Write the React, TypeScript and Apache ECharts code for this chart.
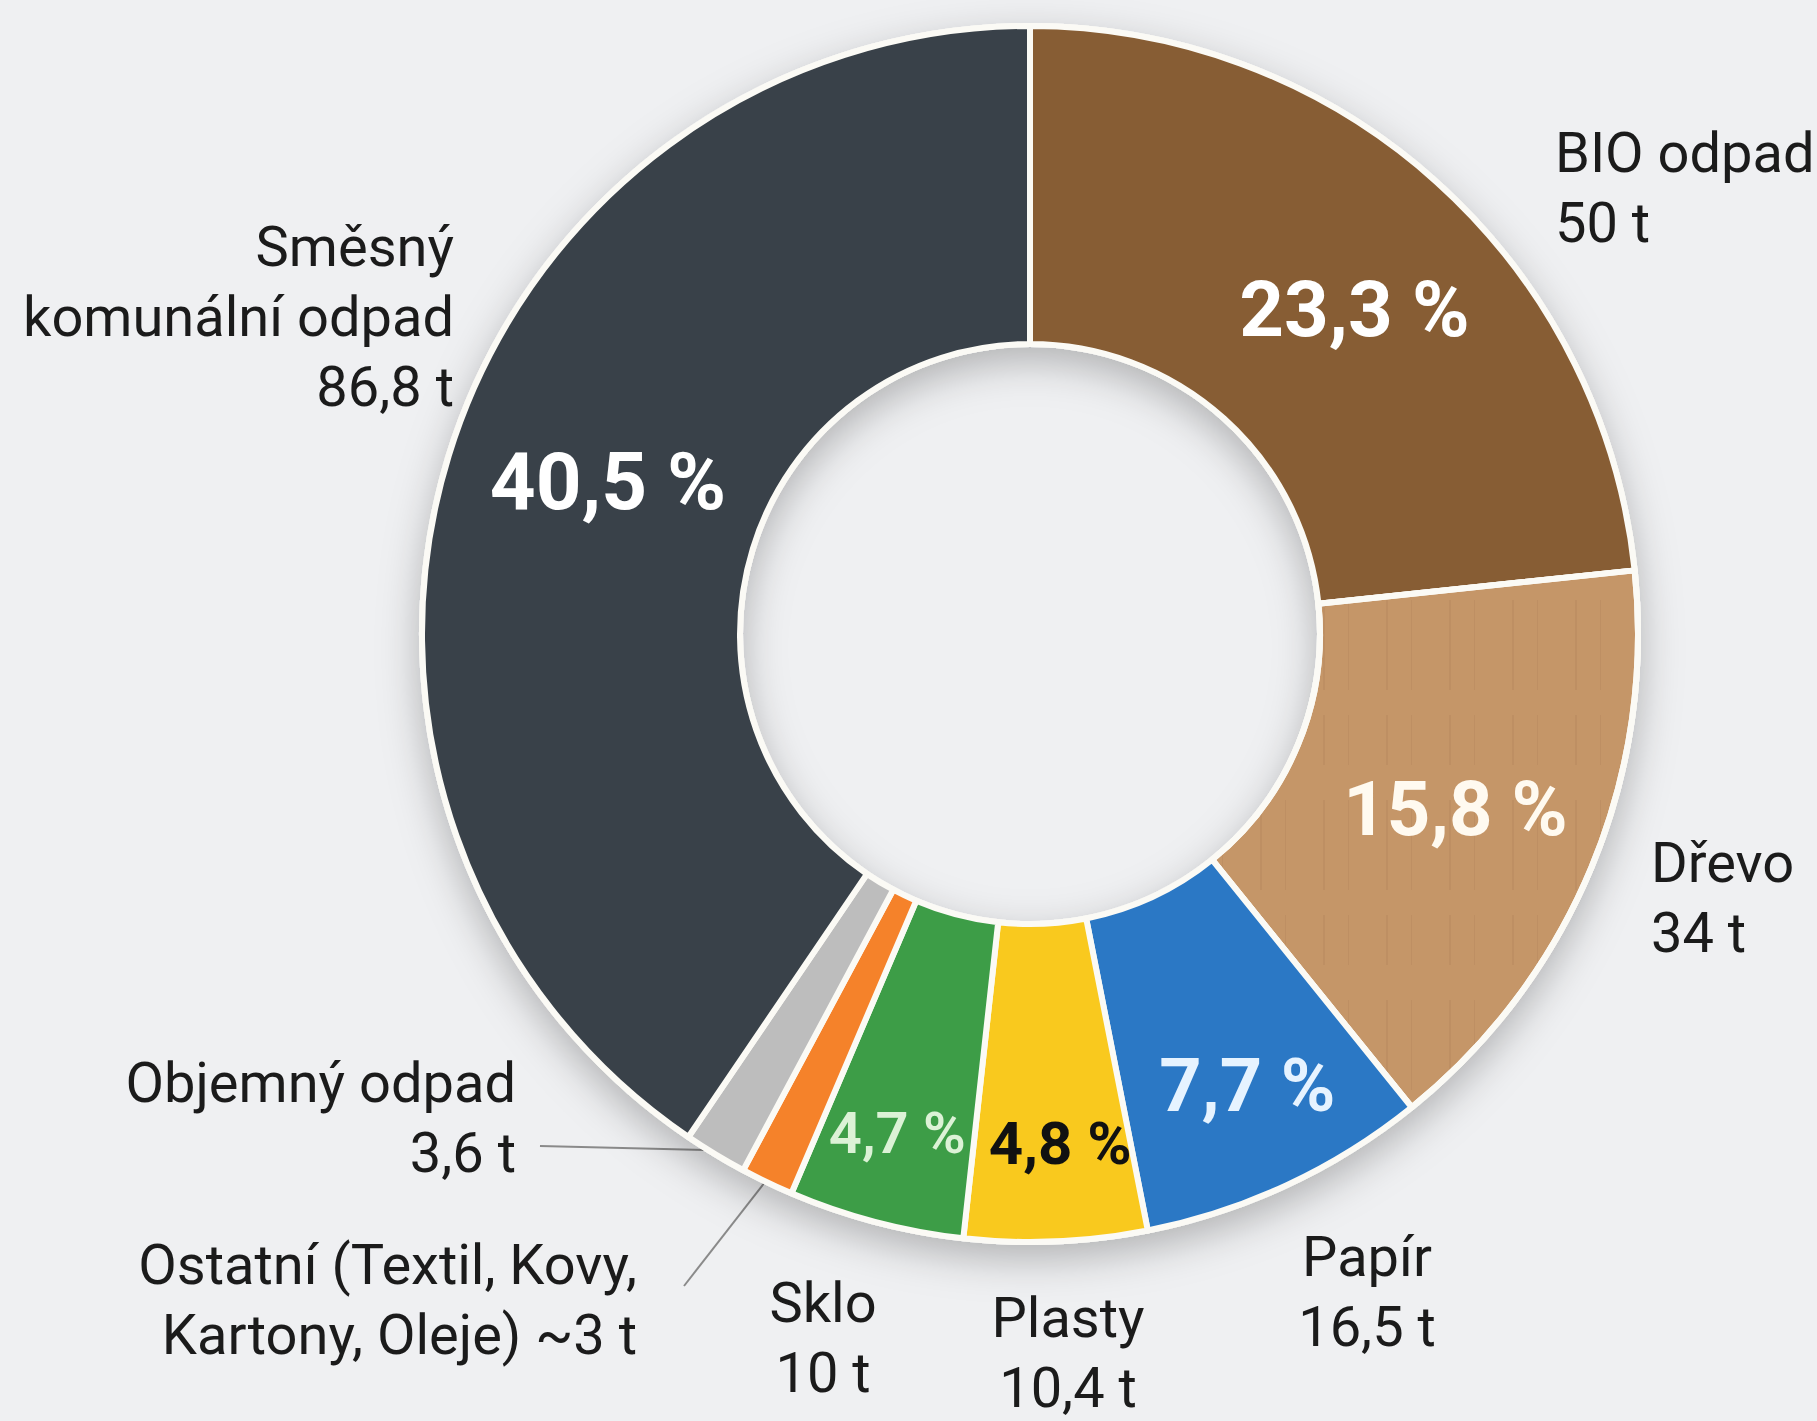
import React, { useEffect, useRef } from "react";
import * as echarts from "echarts";

// ---- data (clockwise from 12 o'clock) ----
const CATEGORIES = [
  "BIO odpad",
  "Dřevo",
  "Papír",
  "Plasty",
  "Sklo",
  "Ostatní (Textil, Kovy,\nKartony, Oleje)",
  "Objemný odpad",
  "Směsný\nkomunální odpad",
];
const VALUES = [50, 34, 16.5, 10.4, 10, 3, 3.6, 86.8];
const VALUE_PREFIX = ["", "", "", "", "", "~", "", ""];
const VALUE_SAME_LINE = [false, false, false, false, false, true, false, false];
const PERCENT_LABELS = ["23,3 %", "15,8 %", "7,7 %", "4,8 %", "4,7 %", "", "", "40,5 %"];

// ---- styles ----
const COLORS = ["#875d34", "#c59668", "#2b78c5", "#f9c91e", "#3d9d47", "#f5822a", "#bdbdbd", "#394149"];
const PERCENT_COLORS = ["#ffffff", "#fffaf0", "#e6f3ff", "#111111", "#dcf2d6", "#ffffff", "#ffffff", "#ffffff"];
const PERCENT_SIZES = [78, 76, 74, 60, 58, 40, 40, 80];
const PERCENT_WEIGHTS = ["bold", "bold", "bold", "bold", "600", "bold", "bold", "bold"];
const PERCENT_OFFSETS: [number, number][] = [
  [22, 11], [8, 2], [26, 42], [11, 58], [-18, 62], [0, 0], [0, 0], [10, -19],
];
// outside label anchors: [x, y, align]
const OUT_LABEL_POS: [number, number, string][] = [
  [1555, 188, "left"],
  [1651, 898, "left"],
  [1367, 1292, "center"],
  [1068, 1353, "center"],
  [823, 1338, "center"],
  [637, 1300, "right"],
  [516, 1118, "right"],
  [454, 317, "right"],
];
const LEADER_LINES: Record<number, [number, number][]> = {
  5: [[765, 1182], [684, 1286], [684, 1286]],
  6: [[705, 1150], [540, 1146], [540, 1146]],
};

const CENTER = [1030, 634];
const RADIUS = [290, 608];
const FONT = "Roboto, 'Liberation Sans', 'DejaVu Sans', sans-serif";

function fmt(v: number) {
  return String(v).replace(".", ",");
}

export default function App() {
  const ref = useRef<HTMLDivElement>(null);
  useEffect(() => {
    document.body.style.margin = "0";
    document.body.style.overflow = "hidden";
    const chart = echarts.init(ref.current!, null, { renderer: "svg" });

    const mainData = CATEGORIES.map((name, i) => ({
      name,
      value: VALUES[i],
      itemStyle:
        i === 1
          ? {
              color: COLORS[i],
              decal: {
                symbol: "rect",
                symbolSize: 1,
                color: "rgba(120,78,40,0.09)",
                dashArrayX: [2, 23, 1, 37],
                dashArrayY: [90, 25, 50, 35],
                rotation: 0,
              },
            }
          : { color: COLORS[i] },
      labelLine: { show: !!LEADER_LINES[i] },
    }));
    const pctData = CATEGORIES.map((name, i) => ({
      name,
      value: VALUES[i],
      label: {
        show: PERCENT_LABELS[i] !== "",
        color: PERCENT_COLORS[i],
        fontSize: PERCENT_SIZES[i],
        fontWeight: PERCENT_WEIGHTS[i],
      },
    }));

    chart.setOption({
      animation: false,
      backgroundColor: "#eff0f2",
      series: [
        {
          type: "pie",
          silent: true,
          center: CENTER,
          radius: [RADIUS[0] - 3, RADIUS[1] + 3],
          startAngle: 90,
          data: [{ name: "", value: 1 }],
          itemStyle: {
            color: "#fbfaf5",
            shadowBlur: 40,
            shadowColor: "rgba(0,0,0,0.26)",
            shadowOffsetY: 14,
          },
          label: { show: false },
          labelLine: { show: false },
        },
        {
          type: "pie",
          center: CENTER,
          radius: RADIUS,
          startAngle: 90,
          clockwise: true,
          avoidLabelOverlap: false,
          data: mainData,
          itemStyle: { borderColor: "#fbfaf5", borderWidth: 6 },
          label: {
            show: true,
            position: "outside",
            fontFamily: FONT,
            fontSize: 56,
            lineHeight: 70,
            color: "#1b1b1b",
            formatter: (p: any) => {
              const i = p.dataIndex;
              const sep = VALUE_SAME_LINE[i] ? " " : "\n";
              return CATEGORIES[i] + sep + VALUE_PREFIX[i] + fmt(VALUES[i]) + " t";
            },
          },
          labelLine: {
            show: false,
            lineStyle: { color: "#8a8a8a", width: 2 },
          },
          labelLayout: (p: any) => {
            const i = p.dataIndex;
            const [x, y, align] = OUT_LABEL_POS[i];
            const out: any = { x, y, align, verticalAlign: "middle" };
            if (LEADER_LINES[i]) out.labelLinePoints = LEADER_LINES[i];
            return out;
          },
        },
        {
          type: "pie",
          silent: true,
          center: CENTER,
          radius: RADIUS,
          startAngle: 90,
          clockwise: true,
          avoidLabelOverlap: false,
          data: pctData,
          itemStyle: { color: "rgba(0,0,0,0)", borderWidth: 0 },
          label: {
            show: true,
            position: "inside",
            fontFamily: FONT,
            formatter: (p: any) => PERCENT_LABELS[p.dataIndex],
          },
          labelLine: { show: false },
          labelLayout: (p: any) => {
            const [dx, dy] = PERCENT_OFFSETS[p.dataIndex];
            return { dx, dy };
          },
        },
      ],
    });
    return () => chart.dispose();
  }, []);
  return <div ref={ref} style={{ width: 1817, height: 1421 }} />;
}
